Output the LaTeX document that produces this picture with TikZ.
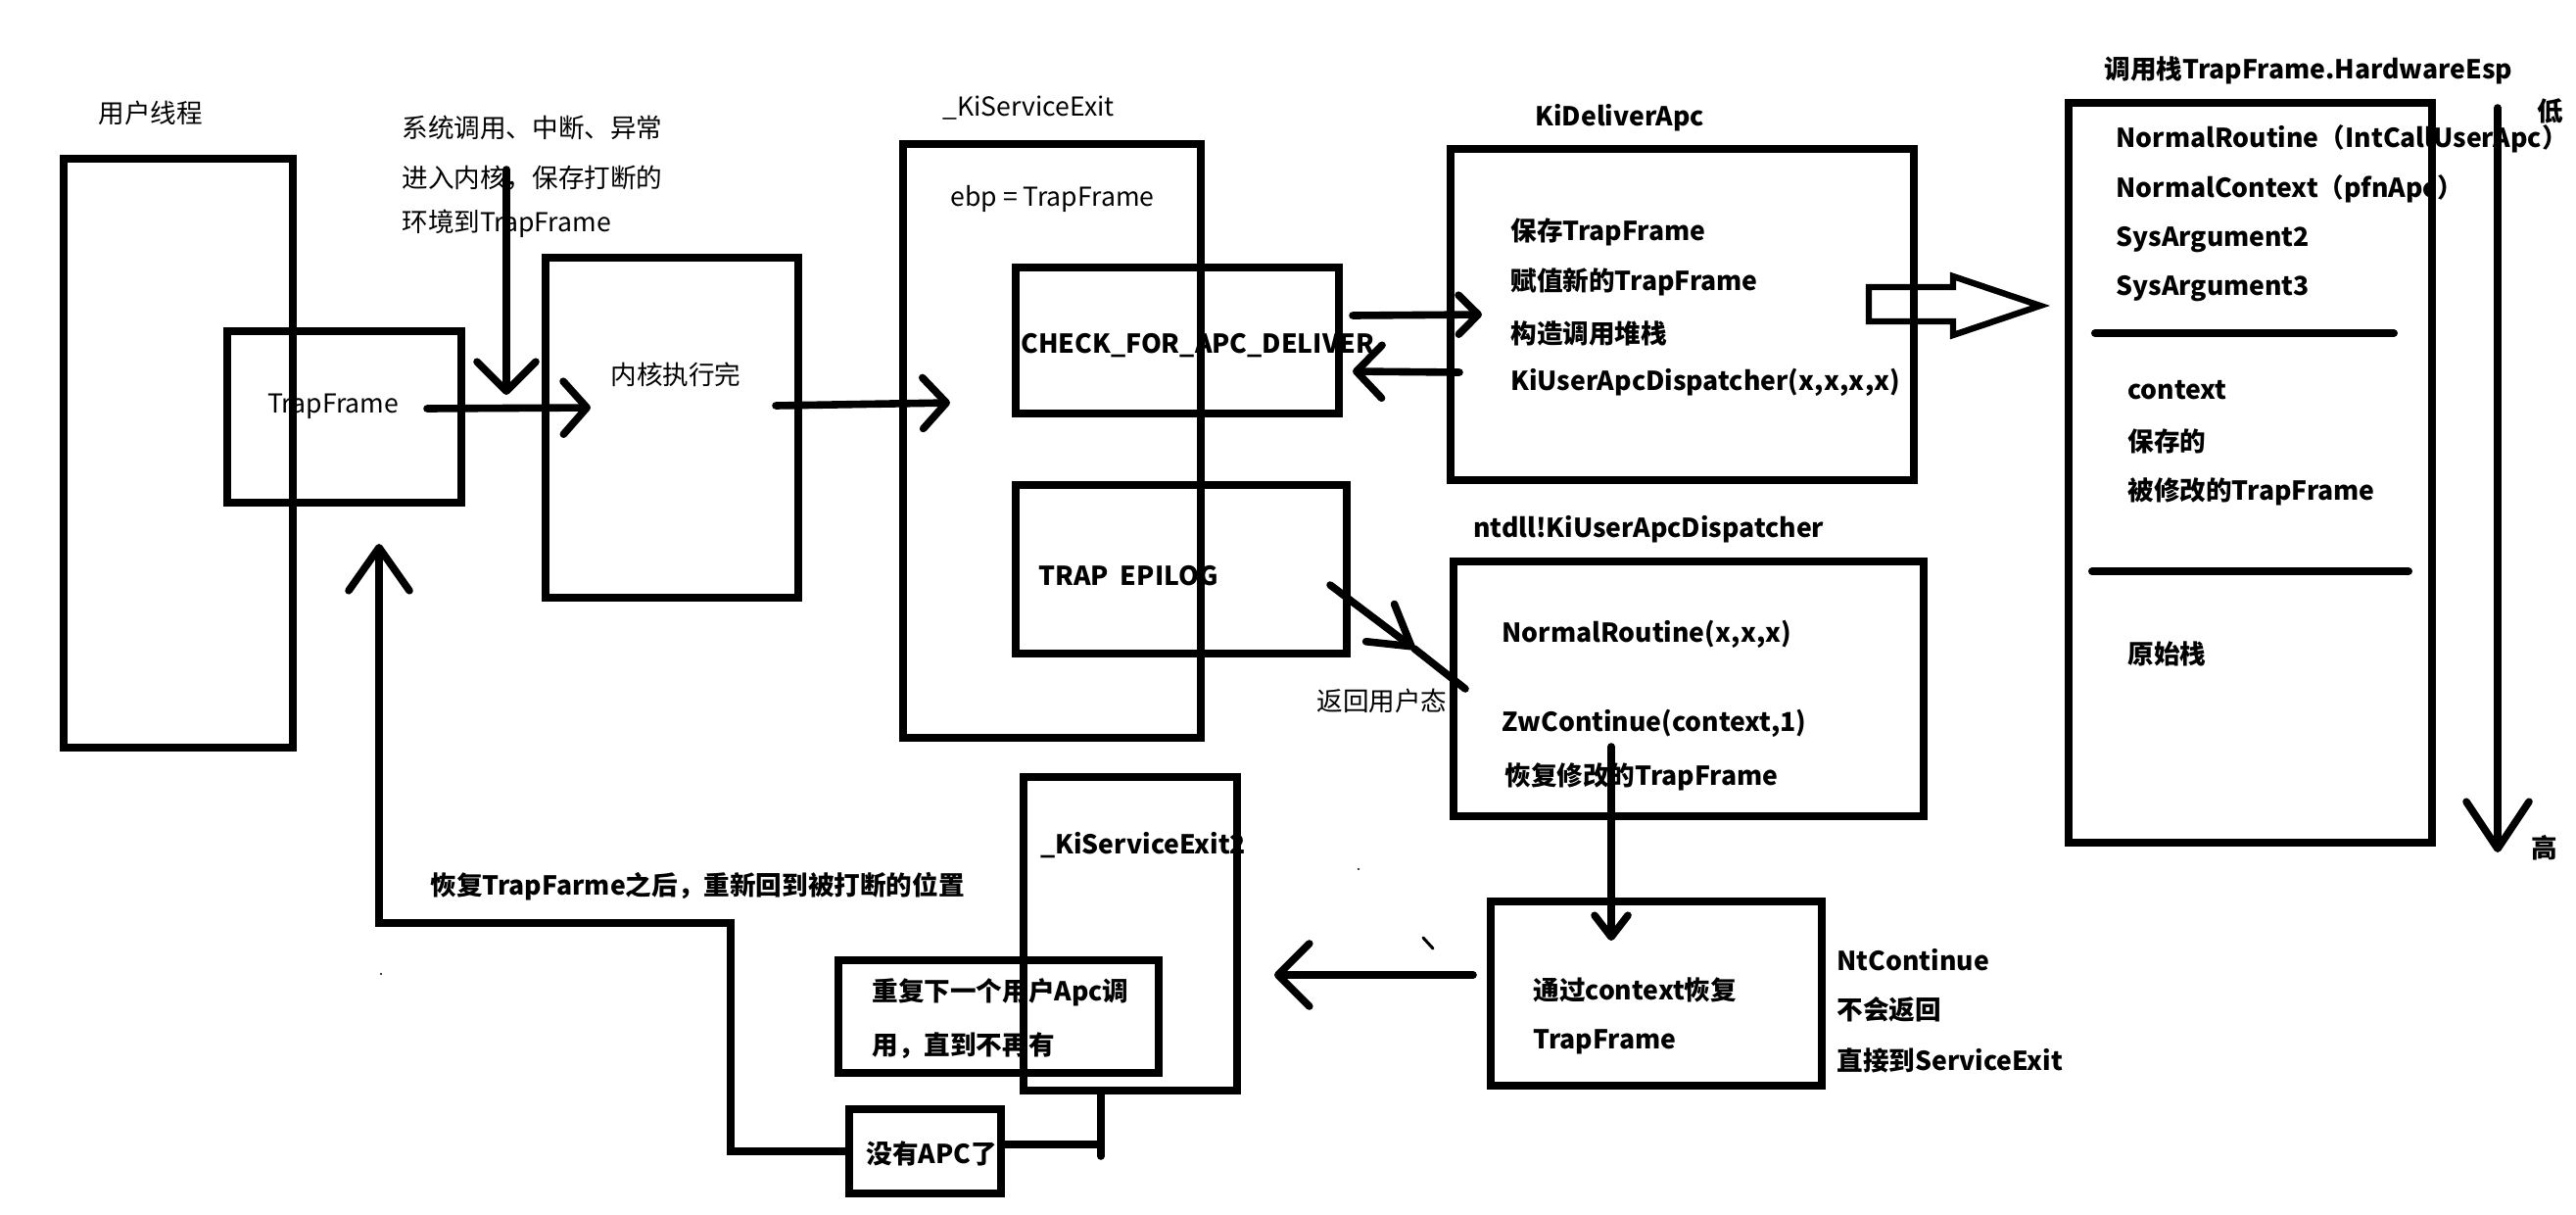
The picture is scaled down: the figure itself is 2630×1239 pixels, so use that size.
\documentclass[tikz,border=0pt]{standalone}
\usepackage{fontspec}
\setmainfont{Noto Sans CJK SC}
\usetikzlibrary{arrows.meta,fit}
\begin{document}
\begin{tikzpicture}[x=0.5pt,y=-0.5pt,
  box/.style={draw,line width=3.6pt,inner sep=0pt},
  tx/.style={anchor=west,inner sep=0pt,font=\fontsize{13.3}{16}\selectfont},
  tbx/.style={tx,font=\fontsize{13.3}{16}\selectfont\bfseries},
  ln/.style={line width=3.8pt,line cap=round},
  ah/.style n args={2}{-{Straight Barb[length=#1,width=#2,round]}},
]
\fill[white] (0,0) rectangle (2630,1239);
\useasboundingbox (0,0) rectangle (2630,1239);

% ---------- boxes ----------
\node[box,fit={(65,162)(299,763)}] (user) {};
\node[box,fit={(232,338)(471,513)}] (tf) {};
\node[box,fit={(557,263)(815,610)}] (kern) {};
\node[box,fit={(922,147)(1226,753)}] (kse) {};
\node[box,fit={(1037,273)(1367,422)}] (chk) {};
\node[box,fit={(1037,495)(1375,667)}] (trap) {};
\node[box,fit={(1481,152)(1954,490)}] (kda) {};
\node[box,fit={(2112,105)(2483,860)}] (stack) {};
\node[box,fit={(1484,573)(1964,833)}] (kuad) {};
\node[box,fit={(1522,920)(1860,1108)}] (ctx) {};
\node[box,fit={(1045,793)(1263,1113)}] (kse2) {};
\node[box,fit={(856,980)(1183,1095)}] (rep) {};
\node[box,fit={(867,1132)(1022,1218)}] (noapc) {};

% ---------- texts ----------
\node[tx] (tuser) at (100,115) {用户线程};
\node[tx] (sys1) at (410,130) {系统调用、中断、异常};
\node[tx] (sys2) at (410,182) {进入内核，保存打断的};
\node[tx] (sys3) at (410,228) {环境到TrapFrame};
\node[tx] (ttf) at (273,415) {TrapFrame};
\node[tx] (tkern) at (623,382) {内核执行完};
\node[tx] (tkse) at (962,110) {\_KiServiceExit};
\node[tx] (tebp) at (970,203) {ebp = TrapFrame};
\node[tbx] (tchk) at (1042,353) {CHECK\_FOR\_APC\_DELIVER};
\node[tbx] (ttrap) at (1060,588) {TRAP\ \ EPILOG};
\node[tbx] (tkda) at (1567,120) {KiDeliverApc};
\node[tbx] (kda1) at (1542,237) {保存TrapFrame};
\node[tbx] (kda2) at (1542,288) {赋值新的TrapFrame};
\node[tbx] (kda3) at (1542,340) {构造调用堆栈};
\node[tbx] (kda4) at (1542,390) {KiUserApcDispatcher(x,x,x,x)};
\node[tbx] (tstack) at (2148,72) {调用栈TrapFrame.HardwareEsp};
\node[tbx] (st1) at (2160,142) {NormalRoutine（IntCallUserApc）};
\node[tbx] (st2) at (2160,193) {NormalContext（pfnApc）};
\node[tbx] (st3) at (2160,245) {SysArgument2};
\node[tbx] (st4) at (2160,295) {SysArgument3};
\node[tbx] (st5) at (2172,398) {context};
\node[tbx] (st6) at (2172,450) {保存的};
\node[tbx] (st7) at (2172,502) {被修改的TrapFrame};
\node[tbx] (st8) at (2172,667) {原始栈};
\node[tbx] (tlow) at (2590,113) {低};
\node[tbx] (thigh) at (2584,865) {高};
\node[tx] (tret) at (1344,715) {返回用户态};
\node[tbx] (tntdll) at (1504,540) {ntdll!KiUserApcDispatcher};
\node[tbx] (ku1) at (1533,647) {NormalRoutine(x,x,x)};
\node[tbx] (ku2) at (1533,738) {ZwContinue(context,1)};
\node[tbx] (ku3) at (1536,793) {恢复修改的TrapFrame};
\node[tbx] (ctx1) at (1565,1010) {通过context恢复};
\node[tbx] (ctx2) at (1565,1063) {TrapFrame};
\node[tbx] (nt1) at (1875,980) {NtContinue};
\node[tbx] (nt2) at (1875,1030) {不会返回};
\node[tbx] (nt3) at (1875,1082) {直接到ServiceExit};
\node[tbx] (tkse2) at (1062,863) {\_KiServiceExit2};
\node[tbx] (rep1) at (890,1013) {重复下一个用户Apc调};
\node[tbx] (rep2) at (890,1067) {用，直到不再有};
\node[tbx] (tnoapc) at (884,1177) {没有APC了};
\node[tbx] (tback) at (439,905) {恢复TrapFarme之后，重新回到被打断的位置};

% ---------- connector coordinates ----------
\coordinate (sysA) at (517,173);
\coordinate (sysB) at (517,403);
\coordinate (tfo) at (436,417);
\coordinate (kerni) at (603,416);
\coordinate (kerno) at (792,414);
\coordinate (ksei) at (970,411);
\coordinate (chko) at (1381,322);
\coordinate (kdai) at (1513,321);
\coordinate (kdao) at (1490,380);
\coordinate (chki) at (1381,379);
\coordinate (dA) at (1358,597);
\coordinate (dT) at (1444,662);
\coordinate (dE) at (1496,703);
\coordinate (kuo) at (1645,762);
\coordinate (ctxi) at (1645,960);
\coordinate (ctxo) at (1504,995);
\coordinate (repi) at (1301,995);
\coordinate (k2a) at (1124,1113);
\coordinate (k2b) at (1124,1180);
\coordinate (k2c) at (1124,1168);
\coordinate (bk1) at (746,942);
\coordinate (bk2) at (387,942);
\coordinate (upT) at (387,555);
\coordinate (sA) at (2550,110);
\coordinate (sT) at (2550,870);
\coordinate (sep1a) at (2139,340);
\coordinate (sep1b) at (2444,340);
\coordinate (sep2a) at (2136,583);
\coordinate (sep2b) at (2459,583);

% ---------- connectors ----------
\draw[ln,ah={15pt}{30pt}] (sysA) -- (sysB);
\draw[ln,ah={12pt}{27pt}] (tfo) -- (kerni);
\draw[ln,ah={12pt}{26pt}] (kerno) -- (ksei);
\draw[ln,ah={10pt}{20pt}] (chko) -- (kdai);
\draw[ln,ah={13pt}{27pt}] (kdao) -- (chki);
\draw[ln,ah={20pt}{24pt}] (dA) -- (dT);
\draw[ln] (dT) -- (dE);
\draw[ln,ah={11pt}{17pt}] (kuo) -- (ctxi);
\draw[ln,ah={16pt}{32pt}] (ctxo) -- (repi);
\draw[ln] (k2a) -- (k2b);
\draw[ln] (noapc.east |- k2c) -- (k2c);
\draw[ln,line cap=butt,ah={22pt}{31pt}] (noapc.west) -| (bk1) -- (bk2) -- (upT);
\draw[ln,ah={24pt}{32pt}] (sA) -- (sT);
\draw[line width=4pt,line cap=round] (sep1a) -- (sep1b);
\draw[line width=4pt,line cap=round] (sep2a) -- (sep2b);

% hollow block arrow KiDeliverApc -> stack
\draw[line width=3.2pt,line join=miter]
  (1908,293) -- (1994,293) -- (1994,282) -- (2083,312) -- (1994,342)
  -- (1994,328) -- (1908,328) -- cycle;

% stray marks
\draw[line width=1.5pt,line cap=round] (1453,957) -- (1463,968);
\fill (1387,887) circle (1.2);
\fill (389,994) circle (1.2);
\end{tikzpicture}
\end{document}
